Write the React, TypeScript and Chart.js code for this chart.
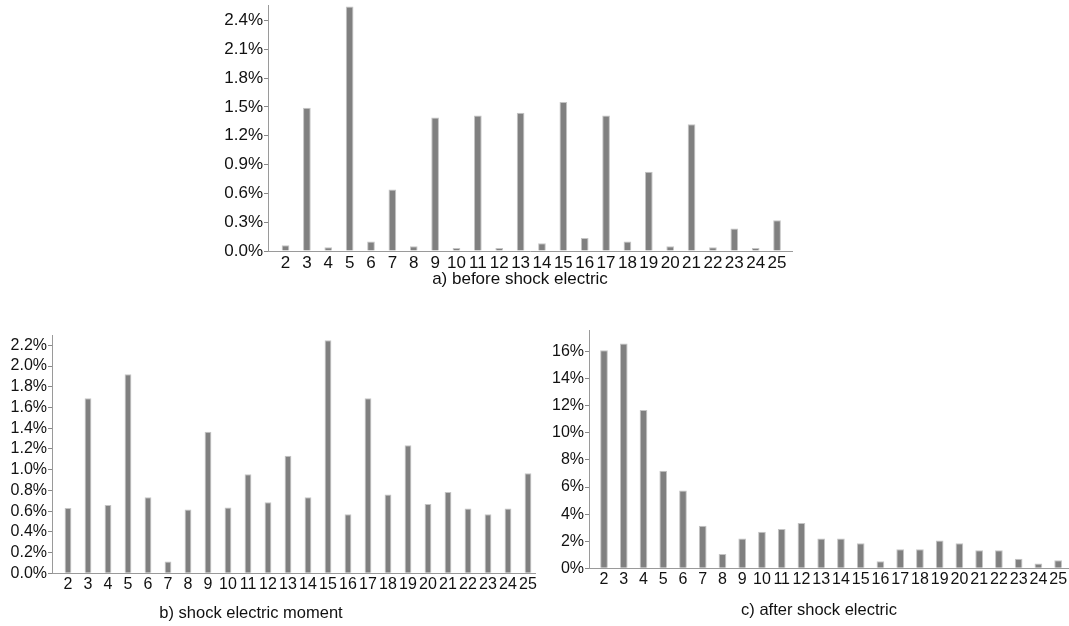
import React, { useEffect, useRef } from 'react';
import { Chart, registerables } from 'chart.js';

Chart.register(...registerables);

// ---- data ----
const CATEGORIES = [2, 3, 4, 5, 6, 7, 8, 9, 10, 11, 12, 13, 14, 15, 16, 17, 18, 19, 20, 21, 22, 23, 24, 25];

const BEFORE_SHOCK = [0.06, 1.49, 0.04, 2.545, 0.1, 0.64, 0.05, 1.39, 0.03, 1.41, 0.03, 1.44, 0.08, 1.55, 0.135, 1.41, 0.1, 0.825, 0.05, 1.32, 0.04, 0.235, 0.03, 0.32];
const SHOCK_MOMENT = [0.63, 1.69, 0.66, 1.92, 0.735, 0.115, 0.615, 1.365, 0.635, 0.955, 0.685, 1.135, 0.735, 2.25, 0.57, 1.69, 0.76, 1.235, 0.67, 0.785, 0.625, 0.57, 0.625, 0.965];
const AFTER_SHOCK = [16.1, 16.6, 11.7, 7.2, 5.75, 3.15, 1.05, 2.2, 2.7, 2.9, 3.35, 2.2, 2.2, 1.85, 0.52, 1.4, 1.4, 2.05, 1.85, 1.33, 1.33, 0.7, 0.35, 0.6];

const Y_TICKS_BEFORE = [0, 0.3, 0.6, 0.9, 1.2, 1.5, 1.8, 2.1, 2.4];
const Y_TICKS_MOMENT = [0, 0.2, 0.4, 0.6, 0.8, 1.0, 1.2, 1.4, 1.6, 1.8, 2.0, 2.2];
const Y_TICKS_AFTER = [0, 2, 4, 6, 8, 10, 12, 14, 16];

const TITLE_BEFORE = 'a) before shock electric';
const TITLE_MOMENT = 'b) shock electric moment';
const TITLE_AFTER = 'c) after shock electric';

// ---- styles / layout ----
const FONT = "'Liberation Sans', Arial, Helvetica, sans-serif";
const AXIS_COLOR = '#9a9a9a';
const TEXT_COLOR = '#111111';
const BAR_FILL = '#808080';
const BAR_EDGE = '#c4c4c4';

type PanelCfg = {
  values: number[];
  yTicks: number[];
  title: string;
  decimals: number;
  yMax: number;
  xMin: number;
  xMax: number;
  left: number;
  top: number;
  width: number;
  height: number;
  padding: { left: number; right: number; top: number; bottom: number };
  yWidth: number;
  extraRight: number;
  xHeight: number;
  tickSize: number;
  titleSize: number;
  barPct: number;
};

const PANELS: PanelCfg[] = [
  {
    values: BEFORE_SHOCK, yTicks: Y_TICKS_BEFORE, title: TITLE_BEFORE, decimals: 1,
    yMax: 2.56, xMin: 1.18, xMax: 25.7,
    left: 210, top: 0, width: 608, height: 290,
    padding: { left: 12, right: 0, top: 5, bottom: 0 },
    yWidth: 46, extraRight: 26, xHeight: 18.6, tickSize: 17, titleSize: 17, barPct: 0.36,
  },
  {
    values: SHOCK_MOMENT, yTicks: Y_TICKS_MOMENT, title: TITLE_MOMENT, decimals: 1,
    yMax: 2.3, xMin: 1.2, xMax: 25.35,
    left: -33, top: 320, width: 573, height: 303,
    padding: { left: 0, right: 5, top: 15, bottom: 0 },
    yWidth: 85, extraRight: 0, xHeight: 29.9, tickSize: 16, titleSize: 16.5, barPct: 0.34,
  },
  {
    values: AFTER_SHOCK, yTicks: Y_TICKS_AFTER, title: TITLE_AFTER, decimals: 0,
    yMax: 17.6, xMin: 1.24, xMax: 25.5,
    left: 540, top: 320, width: 549, height: 300,
    padding: { left: 9, right: 0, top: 10, bottom: 0 },
    yWidth: 40, extraRight: 21, xHeight: 31.9, tickSize: 16, titleSize: 16.5, barPct: 0.39,
  },
];

function Panel({ cfg }: { cfg: PanelCfg }) {
  const ref = useRef<HTMLCanvasElement | null>(null);

  useEffect(() => {
    if (!ref.current) return;
    const chart = new Chart(ref.current, {
      type: 'bar',
      data: {
        datasets: [
          {
            data: CATEGORIES.map((c, i) => ({ x: c, y: cfg.values[i] })),
            backgroundColor: BAR_FILL,
            borderColor: BAR_EDGE,
            borderWidth: 1,
            barPercentage: cfg.barPct,
            categoryPercentage: 1,
            xAxisID: 'x',
            yAxisID: 'y',
          } as any,
        ],
      },
      options: {
        responsive: false,
        animation: false,
        devicePixelRatio: 1,
        layout: { padding: cfg.padding },
        plugins: {
          legend: { display: false },
          tooltip: { enabled: false },
          title: {
            display: true,
            text: cfg.title,
            position: 'bottom',
            color: TEXT_COLOR,
            font: { family: FONT, size: cfg.titleSize, weight: 'normal' },
            padding: 0,
          },
        },
        scales: {
          x: {
            type: 'linear',
            min: cfg.xMin,
            max: cfg.xMax,
            offset: false,
            grid: { display: false, drawTicks: false },
            border: { display: true, color: AXIS_COLOR, width: 1 },
            ticks: {
              autoSkip: false,
              maxRotation: 0,
              minRotation: 0,
              padding: 2,
              color: TEXT_COLOR,
              font: { family: FONT, size: cfg.tickSize },
              callback: (v: any) => String(v),
            },
            afterBuildTicks: (s: any) => {
              s.ticks = CATEGORIES.map((v) => ({ value: v }));
            },
            afterFit: (s: any) => {
              s.height = cfg.xHeight;
              s.paddingLeft = 0;
              s.paddingRight = 0;
            },
          },
          y: {
            type: 'linear',
            position: 'left',
            min: 0,
            max: cfg.yMax,
            grid: { display: true, drawOnChartArea: false, drawTicks: true, tickLength: 4, color: '#888888' },
            border: { display: true, color: AXIS_COLOR, width: 1 },
            ticks: {
              autoSkip: false,
              padding: 1,
              color: TEXT_COLOR,
              font: { family: FONT, size: cfg.tickSize },
              callback: (v: any) => Number(v).toFixed(cfg.decimals) + '%',
            },
            afterBuildTicks: (s: any) => {
              s.ticks = cfg.yTicks.map((v) => ({ value: v }));
            },
            afterFit: (s: any) => {
              s.width = cfg.yWidth;
              s.paddingTop = 0;
              s.paddingBottom = 0;
            },
          },
          // empty spacer on the right so the caption can be centred where the original has it
          spacer: {
            type: 'linear',
            position: 'right',
            display: true,
            grid: { display: false, drawTicks: false },
            border: { display: false },
            ticks: { display: false },
            afterFit: (s: any) => {
              s.width = cfg.extraRight;
              s.paddingTop = 0;
              s.paddingBottom = 0;
            },
          },
        },
      } as any,
    });
    return () => chart.destroy();
  }, [cfg]);

  return (
    <canvas
      ref={ref}
      width={cfg.width}
      height={cfg.height}
      style={{ position: 'absolute', left: cfg.left, top: cfg.top, width: cfg.width, height: cfg.height }}
    />
  );
}

export default function App() {
  return (
    <div
      style={{
        position: 'absolute',
        left: 0,
        top: 0,
        width: 1069,
        height: 626,
        overflow: 'hidden',
        background: '#ffffff',
      }}
    >
      {PANELS.map((p, i) => (
        <Panel key={i} cfg={p} />
      ))}
    </div>
  );
}
